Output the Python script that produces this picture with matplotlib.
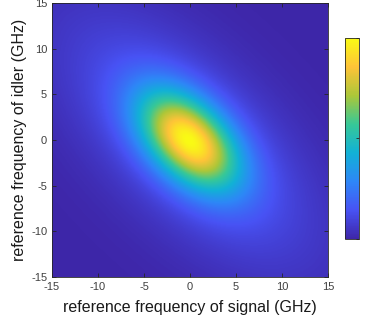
import numpy as np
import matplotlib
matplotlib.use("Agg")
import matplotlib.pyplot as plt
from matplotlib.colors import LinearSegmentedColormap

plt.rcParams['font.family'] = ['Liberation Sans', 'DejaVu Sans']

# frequency grid (GHz)
signal_freq = np.linspace(-15, 15, 301)
idler_freq = np.linspace(-15, 15, 301)

# joint spectral intensity: main anti-correlated lobe plus a weak broad pedestal
core_weight = 0.82
core_width_major = 4.5   # along signal = -idler
core_width_minor = 2.7   # along signal = idler
halo_weight = 0.18
halo_width_major = 12.0
halo_width_minor = 5.5
center_signal = -0.1
center_idler = -0.1

axis_ticks = [-15, -10, -5, 0, 5, 10, 15]
cbar_ticks = [0, 0.5, 1]

# parula colour stops
parula_stops = [
    (0 / 7, (0.2422, 0.1504, 0.6603)),
    (1 / 7, (0.2810, 0.3228, 0.9579)),
    (2 / 7, (0.1786, 0.5289, 0.9682)),
    (3 / 7, (0.0689, 0.6948, 0.8394)),
    (4 / 7, (0.2161, 0.7843, 0.5923)),
    (5 / 7, (0.6720, 0.7793, 0.2227)),
    (6 / 7, (0.9970, 0.7659, 0.2199)),
    (7 / 7, (0.9769, 0.9839, 0.0805)),
]
parula = LinearSegmentedColormap.from_list('parula', parula_stops, N=256)

S, I = np.meshgrid(signal_freq - center_signal, idler_freq - center_idler)
u = (S - I) / np.sqrt(2)
v = (S + I) / np.sqrt(2)
core = np.exp(-0.5 * ((u / core_width_major) ** 2 + (v / core_width_minor) ** 2))
halo = np.exp(-0.5 * ((u / halo_width_major) ** 2 + (v / halo_width_minor) ** 2))
jsi = core_weight * core + halo_weight * halo
jsi = jsi / jsi.max()

fig = plt.figure(figsize=(3.68, 3.25), dpi=100)
ax = fig.add_axes([0.1413, 0.1477, 0.7497, 0.8431])
im = ax.imshow(jsi, extent=[-15, 15, -15, 15], origin='lower', cmap=parula,
               vmin=0, vmax=1, interpolation='bilinear', aspect='auto')

edge = '#262626'
ax.set_xticks(axis_ticks)
ax.set_yticks(axis_ticks)
ax.set_xticklabels([str(t) for t in axis_ticks])
ax.set_yticklabels([str(t) for t in axis_ticks])
ax.tick_params(direction='in', length=3, width=0.6, colors=edge, labelsize=8,
               top=True, right=True, labelcolor='#404040')
for sp in ax.spines.values():
    sp.set_color(edge)
    sp.set_linewidth(0.6)
ax.set_xlabel('reference frequency of signal (GHz)', fontsize=11.5, color='#1a1a1a', labelpad=6)
ax.set_ylabel('reference frequency of idler (GHz)', fontsize=11.5, color='#1a1a1a', labelpad=3)

cax = fig.add_axes([0.9375, 0.2646, 0.038, 0.6185])
cb = fig.colorbar(im, cax=cax, ticks=cbar_ticks)
cb.outline.set_edgecolor(edge)
cb.outline.set_linewidth(0.6)
cax.tick_params(direction='in', length=2, width=0.6, colors=edge, labelsize=8, pad=7)

fig.savefig('out.png', dpi=100)
